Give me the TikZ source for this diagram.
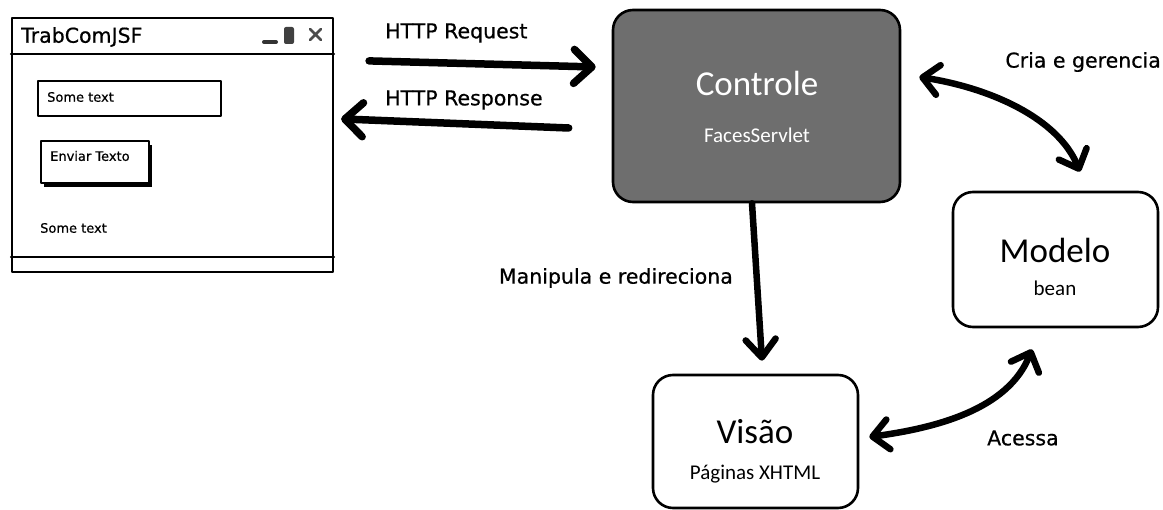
\documentclass[tikz,border=0pt]{standalone}
\usepackage{fontspec}
\setmainfont{DejaVu Sans}
\newfontfamily\handfont[FakeBold=0.6]{DejaVu Sans}
\newfontfamily\boxfont{Carlito}
\usetikzlibrary{arrows.meta}
\definecolor{ctrlgrey}{HTML}{6E6E6E}
\begin{document}
\begin{tikzpicture}[x=1pt,y=-1pt,line join=round,line cap=round,
  frame/.style={draw=black,line width=2.2pt,inner sep=0pt},
  mvcbox/.style={draw=black,line width=2.6pt,rounded corners=20pt,inner sep=0pt},
  uitext/.style={anchor=west,inner sep=0pt,font=\handfont\fontsize{13}{14}\selectfont},
  label/.style={inner sep=0pt,font=\handfont\fontsize{20.5}{22}\selectfont},
  boxtitle/.style={inner sep=0pt,font=\boxfont\fontsize{35}{36}\selectfont},
  boxsub/.style={inner sep=0pt,font=\boxfont\fontsize{21}{23}\selectfont},
  httparrow/.style={line width=7.5pt,-{Straight Barb[length=18pt,width=34pt,round]}},
  flowarrow/.style={line width=6.5pt,-{Straight Barb[length=18pt,width=30pt,round]}},
  twoway/.style={line width=6.5pt,{Straight Barb[length=16pt,width=30pt,round]}-{Straight Barb[length=16pt,width=30pt,round]}},
]
\useasboundingbox[fill=white] (0,0) rectangle (1163,510);

% ---------- application window mock-up ----------
\node[frame,minimum width=321pt,minimum height=254pt] (win) at (172.5,145) {};
\draw[line width=2.2pt] ([yshift=-37pt]win.north west) -- ([yshift=-37pt]win.north east);
\draw[line width=2.2pt] ([yshift=16pt]win.south west) -- ([yshift=16pt]win.south east);
\node[anchor=west,inner sep=0pt,font=\handfont\fontsize{20.5}{22}\selectfont] (wtitle) at (21,37) {TrabComJSF};
% minimise / maximise / close glyphs
\draw[line width=4pt,black!80] (264,42) -- (276,42);
\fill[black!75,rounded corners=2pt] (284,27) rectangle (294,44);
\draw[line width=2.6pt,black!70] (310,29) -- (321,40) (321,29) -- (310,40);
% input field
\node[frame,anchor=north west,minimum width=183pt,minimum height=35pt] (field) at (37,80) {};
\node[uitext] (fieldtext) at (47,97) {Some text};
% button with drop shadow
\fill (44,145) rectangle (152,187);
\node[frame,fill=white,anchor=north west,minimum width=108pt,minimum height=42pt] (btn) at (40,140) {};
\node[uitext] (btntext) at (50,156) {Enviar Texto};
% plain label
\node[uitext] (outtext) at (40,228) {Some text};

% ---------- MVC boxes ----------
\node[mvcbox,fill=ctrlgrey,minimum width=287pt,minimum height=192pt] (ctrl) at (756.5,106) {};
\node[boxtitle,text=white] (ctrltitle) at (757,83) {Controle};
\node[boxsub,text=white] (ctrlsub) at (757,135) {FacesServlet};

\node[mvcbox,fill=white,minimum width=205pt,minimum height=135pt] (model) at (1055.5,259.5) {};
\node[boxtitle] (modeltitle) at (1055,250) {Modelo};
\node[boxsub] (modelsub) at (1055,288) {bean};

\node[mvcbox,fill=white,minimum width=205pt,minimum height=133pt] (view) at (755.5,441.5) {};
\node[boxtitle] (viewtitle) at (755,432) {Visão};
\node[boxsub] (viewsub) at (755,474) {Páginas XHTML};

% ---------- connector labels ----------
\node[label,anchor=west] (reqlabel) at (385,33) {HTTP Request};
\node[label,anchor=west] (resplabel) at (385,100) {HTTP Response};
\node[label,anchor=east] (crialabel) at (1161,62) {Cria e gerencia};
\node[label,anchor=east] (maniplabel) at (733,278) {Manipula e redireciona};
\node[label,anchor=west] (acesslabel) at (987,438) {Acessa};

% ---------- connectors ----------
\coordinate (reqS) at ([shift={(35,44)}]win.north east);
\coordinate (reqE) at ([shift={(-16,-39)}]ctrl.west);
\coordinate (respS) at ([shift={(-43,22)}]ctrl.west);
\coordinate (respE) at ([shift={(7,102)}]win.north east);
\draw[httparrow] (reqS) -- (reqE);
\draw[httparrow] (respS) -- (respE);

\coordinate (manS) at ([xshift=-4.5pt]ctrl.south);
\coordinate (manE) at ([shift={(6.5,-13)}]view.north);
\draw[flowarrow] (manS) -- (manE);

\coordinate (criaA) at ([shift={(18,-29)}]ctrl.east);
\coordinate (criaB) at ([shift={(24.5,-19)}]model.north);
\draw[twoway] (criaA) .. controls (990,88) and (1058,118) .. (criaB);

\coordinate (acA) at ([shift={(10,-4.5)}]view.east);
\coordinate (acB) at ([shift={(-23.5,21)}]model.south);
\draw[twoway] (acA) .. controls (935,428) and (1008,410) .. (acB);
\end{tikzpicture}
\end{document}
